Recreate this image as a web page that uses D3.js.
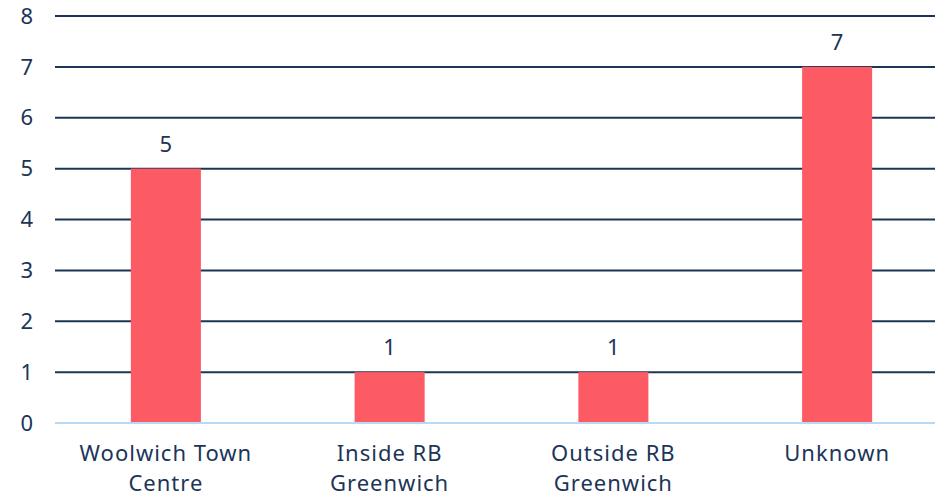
<!DOCTYPE html>
<html><head><meta charset="utf-8">
<script src="https://cdn.jsdelivr.net/npm/d3@7"></script>
<style>body{margin:0;background:#fff;}svg{display:block;}</style>
</head><body>
<svg id="c" width="935" height="496"></svg>
<script>
const categories = [["Woolwich Town","Centre"],["Inside RB","Greenwich"],["Outside RB","Greenwich"],["Unknown"]];
const values = [5,1,1,7];
const yTicks = [0,1,2,3,4,5,6,7,8];

const svg = d3.select("#c");
const W = 935;
const textColor = "#1c3557";
const font = "'Noto Sans', 'DejaVu Sans', sans-serif";
const x = d3.scaleBand().domain(d3.range(categories.length)).range([54, 949]).paddingInner(0.687).paddingOuter(0.3435);
const y = d3.scaleLinear().domain([0,8]).range([423,16]);

// gridlines
svg.append("g").selectAll("line").data(yTicks.filter(t=>t>0)).join("line")
  .attr("x1",55).attr("x2",W).attr("y1",d=>y(d)).attr("y2",d=>y(d))
  .attr("stroke","#1c3557").attr("stroke-width",2);

// y tick labels
svg.append("g").selectAll("text").data(yTicks).join("text")
  .attr("x",33).attr("y",d=>y(d)).attr("dy","0.35em").attr("text-anchor","end")
  .attr("fill",textColor).attr("font-family",font).attr("font-size",22).text(d=>d);

// bars
svg.append("g").selectAll("rect").data(values).join("rect")
  .attr("x",(d,i)=>x(i)).attr("width",x.bandwidth())
  .attr("y",d=>y(d)).attr("height",d=>y(0)-y(d)).attr("fill","#fd5b63");

// baseline
svg.append("line").attr("x1",55).attr("x2",W).attr("y1",y(0)).attr("y2",y(0))
  .attr("stroke","#b9d9f2").attr("stroke-width",2);

// value labels
svg.append("g").selectAll("text").data(values).join("text")
  .attr("x",(d,i)=>x(i)+x.bandwidth()/2).attr("y",d=>y(d)-17)
  .attr("text-anchor","middle").attr("fill",textColor).attr("font-family",font).attr("font-size",22).text(d=>d);

// category labels
const cl = svg.append("g").selectAll("text").data(categories).join("text")
  .attr("text-anchor","middle").attr("fill",textColor).attr("font-family",font).attr("font-size",22)
  .attr("letter-spacing","1px");
cl.each(function(d,i){
  const t = d3.select(this);
  d.forEach((line,j)=>{
    t.append("tspan").attr("x",x(i)+x.bandwidth()/2).attr("y",461+j*30).text(line);
  });
});
</script>
</body></html>
